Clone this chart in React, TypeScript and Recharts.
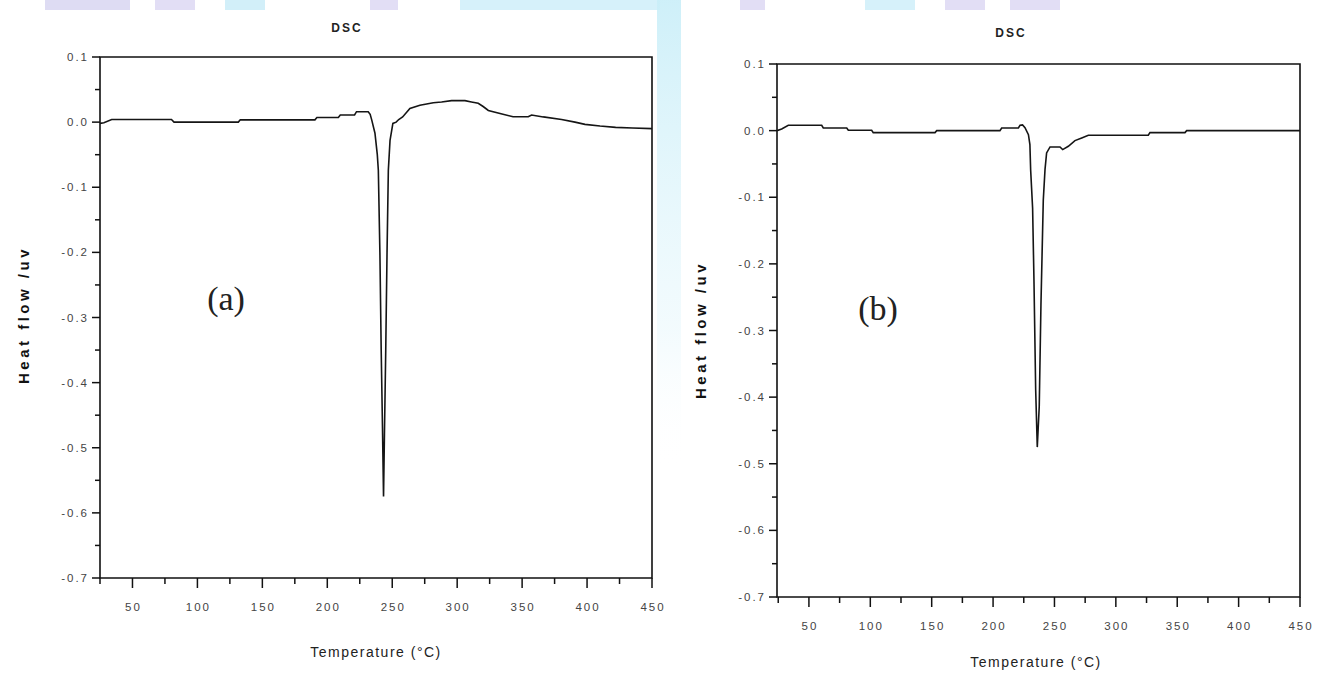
import React from 'react';
import { LineChart, Line, XAxis, YAxis, ReferenceArea } from 'recharts';

// ---------- data: panel (a) ----------
const tempA = [25, 28, 34, 80, 82, 131.5, 133, 190.5, 192, 208.5, 210, 221, 222.5, 231.5, 233, 234.2, 236.7, 238.5, 239.3, 240.5, 241.5, 242.5, 243.3, 244, 245, 246, 247, 248.3, 250.5, 253, 255, 258, 263.6, 271.3, 281.6, 288, 295.7, 306, 311, 316.2, 320, 324, 333, 343, 354.7, 357.3, 366.3, 380.4, 390.7, 398.4, 410, 422, 435, 450];
const heatA = [-0.002, -0.001, 0.004, 0.004, 0.0, 0.0, 0.0035, 0.0035, 0.007, 0.007, 0.011, 0.011, 0.016, 0.016, 0.012, 0.0035, -0.017, -0.05, -0.074, -0.2, -0.35, -0.47, -0.575, -0.48, -0.35, -0.2, -0.074, -0.028, -0.002, 0.0, 0.004, 0.008, 0.021, 0.026, 0.0297, 0.031, 0.033, 0.033, 0.031, 0.029, 0.024, 0.018, 0.0133, 0.0082, 0.0082, 0.011, 0.008, 0.004, 0.0, -0.0035, -0.006, -0.008, -0.009, -0.01];

// ---------- data: panel (b) ----------
const tempB = [24, 27.8, 33.2, 60.4, 61.7, 80.8, 82.1, 101.1, 102.4, 152.7, 154.1, 205.6, 207, 220.6, 222, 224, 226, 228.8, 230, 230.6, 232.2, 233.3, 234.7, 236, 237.6, 239, 240.9, 242.3, 243.6, 246.4, 254.5, 256.7, 261.3, 266.7, 272.2, 277.6, 326.4, 327.8, 356.3, 357.7, 450];
const heatB = [0, 0.0025, 0.008, 0.008, 0.004, 0.004, 0.0006, 0.0006, -0.003, -0.003, 0, 0, 0.004, 0.004, 0.008, 0.0085, 0.0045, -0.006, -0.021, -0.0586, -0.116, -0.224, -0.389, -0.475, -0.414, -0.261, -0.104, -0.0586, -0.0335, -0.0245, -0.0245, -0.0285, -0.0235, -0.015, -0.011, -0.007, -0.007, -0.003, -0.003, 0, 0];

// ---------- ticks ----------
const xMajorTicks = [50, 100, 150, 200, 250, 300, 350, 400, 450];
const xMinorTicks = [25, 75, 125, 175, 225, 275, 325, 375, 425];
const yMajorTicks = [-0.7, -0.6, -0.5, -0.4, -0.3, -0.2, -0.1, 0, 0.1];
const yMinorTicks = [-0.65, -0.55, -0.45, -0.35, -0.25, -0.15, -0.05, 0.05];
const xDomainA = [25, 450];
const xDomainB = [24, 450];
const yDomain = [-0.7, 0.1];

const titleText = 'DSC';
const yTitle = 'Heat flow /uv';
const xTitle = 'Temperature (°C)';

const dataA = tempA.map((t, i) => ({ t, v: heatA[i] }));
const dataB = tempB.map((t, i) => ({ t, v: heatB[i] }));

const xTicksAll = [...xMinorTicks, ...xMajorTicks].sort((a, b) => a - b);
const yTicksAll = [...yMinorTicks, ...yMajorTicks].sort((a, b) => a - b);

const FONT = '"Liberation Sans", Arial, sans-serif';

const isMajorY = (v: number) => yMajorTicks.some((m) => Math.abs(m - v) < 1e-9);
const isMajorX = (v: number) => xMajorTicks.some((m) => Math.abs(m - v) < 1e-9);

const XTick = (props: any) => {
  const { x, y, payload } = props;
  const v = payload.value;
  const major = isMajorX(v);
  return (
    <g>
      <line x1={x} x2={x} y1={y} y2={y + (major ? 10 : 6)} stroke="#111" strokeWidth={1.5} />
      {major && (
        <text x={x + 1} y={y + 29} textAnchor="middle" dominantBaseline="central" fontFamily={FONT} fontSize={11.5} letterSpacing={2} fill="#444">
          {String(v)}
        </text>
      )}
    </g>
  );
};

const YTick = (props: any) => {
  const { x, y, payload } = props;
  const v = payload.value;
  const major = isMajorY(v);
  return (
    <g>
      <line x1={x} x2={x - (major ? 8 : 5)} y1={y} y2={y} stroke="#111" strokeWidth={1.5} />
      {major && (
        <text x={x - 11} y={y} textAnchor="end" dominantBaseline="central" fontFamily={FONT} fontSize={11.5} letterSpacing={2} fill="#444">
          {v.toFixed(1)}
        </text>
      )}
    </g>
  );
};

type PanelProps = {
  data: { t: number; v: number }[];
  xDomain: number[];
  left: number;
  width: number;
  plotLeft: number;
  plotRight: number;
  plotTop: number;
  plotBottom: number;
};

const Panel = ({ data, xDomain, left, width, plotLeft, plotRight, plotTop, plotBottom }: PanelProps) => {
  const height = 678;
  return (
    <div style={{ position: 'absolute', left, top: 0, width, height }}>
      <LineChart
        width={width}
        height={height}
        data={data}
        margin={{ top: plotTop, right: left + width - plotRight, left: 0, bottom: 0 }}
      >
        <XAxis
          type="number"
          dataKey="t"
          domain={xDomain}
          allowDataOverflow
          ticks={xTicksAll}
          interval={0}
          tickSize={0}
          tickMargin={0}
          axisLine={false}
          tickLine={false}
          tick={(p: any) => <XTick {...p} />}
          height={height - plotBottom}
        />
        <YAxis
          type="number"
          domain={yDomain}
          allowDataOverflow
          ticks={yTicksAll}
          interval={0}
          tickSize={0}
          tickMargin={0}
          axisLine={false}
          tickLine={false}
          tick={(p: any) => <YTick {...p} />}
          width={plotLeft - left}
        />
        <ReferenceArea
          x1={xDomain[0]}
          x2={xDomain[1]}
          y1={yDomain[0]}
          y2={yDomain[1]}
          fill="none"
          fillOpacity={0}
          stroke="#111"
          strokeWidth={1.6}
        />
        <Line
          type="linear"
          dataKey="v"
          stroke="#151515"
          strokeWidth={1.6}
          dot={false}
          isAnimationActive={false}
        />
      </LineChart>
    </div>
  );
};

const watermarkTop = [
  { x: 45, w: 85, c: '#dedcf3' },
  { x: 155, w: 40, c: '#e2def5' },
  { x: 225, w: 40, c: '#d2eff9' },
  { x: 370, w: 28, c: '#e2def5' },
  { x: 460, w: 200, c: '#d6f1fa' },
  { x: 740, w: 25, c: '#e2def5' },
  { x: 865, w: 50, c: '#d6f1fa' },
  { x: 945, w: 40, c: '#e2def5' },
  { x: 1010, w: 50, c: '#e2def5' },
];

export default function App() {
  return (
    <div style={{ position: 'absolute', left: 0, top: 0, width: 1327, height: 678, background: '#fff', overflow: 'hidden' }}>
      <svg width={1327} height={678} style={{ position: 'absolute', left: 0, top: 0 }}>
        <defs>
          <linearGradient id="band" x1="0" y1="0" x2="0" y2="1">
            <stop offset="0" stopColor="#c9eef8" stopOpacity={0.9} />
            <stop offset="0.7" stopColor="#e6f7fc" stopOpacity={0.5} />
            <stop offset="1" stopColor="#ffffff" stopOpacity={0} />
          </linearGradient>
        </defs>
        {watermarkTop.map((r, i) => (
          <rect key={i} x={r.x} y={0} width={r.w} height={10} fill={r.c} />
        ))}
        <rect x={657} y={0} width={24} height={470} fill="url(#band)" />
      </svg>

      <Panel data={dataA} xDomain={xDomainA} left={0} width={680} plotLeft={100} plotRight={652} plotTop={57} plotBottom={578} />
      <Panel data={dataB} xDomain={xDomainB} left={680} width={647} plotLeft={777} plotRight={1300} plotTop={64} plotBottom={597} />

      <svg width={1327} height={678} style={{ position: 'absolute', left: 0, top: 0, pointerEvents: 'none' }}>
        <text x={347} y={28} textAnchor="middle" dominantBaseline="central" fontFamily={FONT} fontWeight="bold" fontSize={12} letterSpacing={2} fill="#222">{titleText}</text>
        <text x={1011} y={33} textAnchor="middle" dominantBaseline="central" fontFamily={FONT} fontWeight="bold" fontSize={12} letterSpacing={2} fill="#222">{titleText}</text>

        <text transform="translate(23,315) rotate(-90)" textAnchor="middle" dominantBaseline="central" fontFamily={FONT} fontWeight="bold" fontSize={15} letterSpacing={3.5} fill="#111">{yTitle}</text>
        <text transform="translate(700,330) rotate(-90)" textAnchor="middle" dominantBaseline="central" fontFamily={FONT} fontWeight="bold" fontSize={15} letterSpacing={3.5} fill="#111">{yTitle}</text>

        <text x={376} y={652} textAnchor="middle" dominantBaseline="central" fontFamily={FONT} fontSize={14} letterSpacing={1.5} fill="#222">{xTitle}</text>
        <text x={1036} y={662} textAnchor="middle" dominantBaseline="central" fontFamily={FONT} fontSize={14} letterSpacing={1.5} fill="#222">{xTitle}</text>

        <text x={226} y={298} textAnchor="middle" dominantBaseline="central" fontFamily='"Liberation Serif", "Times New Roman", serif' fontSize={34} fill="#222">(a)</text>
        <text x={878} y={308} textAnchor="middle" dominantBaseline="central" fontFamily='"Liberation Serif", "Times New Roman", serif' fontSize={34} fill="#222">(b)</text>
      </svg>
    </div>
  );
}
